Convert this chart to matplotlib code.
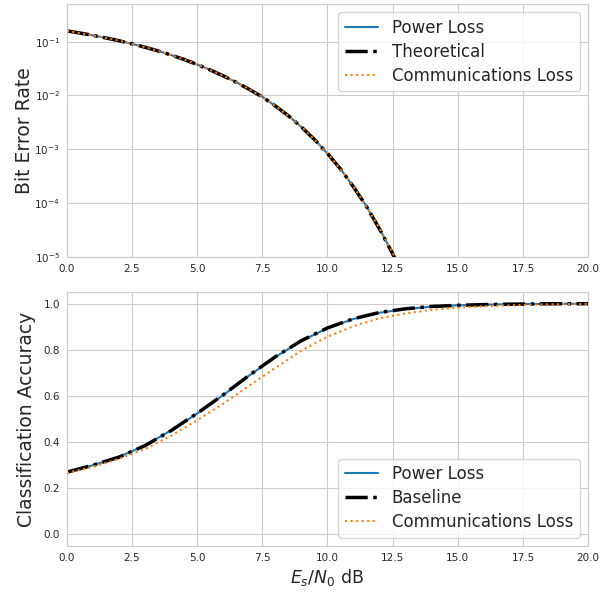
import matplotlib
matplotlib.use('Agg')
import matplotlib.pyplot as plt
import seaborn as sns

sns.set_style('whitegrid')

# BER curve
snr_ber = [0.0, 0.5, 1.0, 1.5, 2.0, 2.5, 3.0, 3.5, 4.0, 4.5, 5.0, 5.5, 6.0, 6.5,
           7.0, 7.5, 8.0, 8.5, 9.0, 9.5, 10.0, 10.5, 11.0, 11.5, 12.0, 12.5, 13.0, 13.5]
ber_theory = [0.1587, 0.1448, 0.1309, 0.1172, 0.1040, 0.0912, 0.0788, 0.0673, 0.0565,
              0.0466, 0.0377, 0.0298, 0.0232, 0.0176, 0.0130, 0.0094, 0.00640, 0.00420,
              0.00260, 0.00152, 8.4e-4, 4.3e-4, 2.0e-4, 8.6e-5, 3.3e-5, 1.15e-5,
              3.6e-6, 1.0e-6]
ber_power = [0.1585, 0.1450, 0.1307, 0.1173, 0.1038, 0.0913, 0.0787, 0.0674, 0.0564,
             0.0467, 0.0376, 0.0299, 0.0231, 0.0177, 0.0129, 0.0095, 0.00638, 0.00422,
             0.00259, 0.00153, 8.3e-4, 4.35e-4, 1.98e-4, 8.7e-5, 3.3e-5, 1.16e-5,
             3.7e-6, 1.0e-6]
ber_comms = [0.1589, 0.1447, 0.1310, 0.1171, 0.1041, 0.0911, 0.0789, 0.0672, 0.0566,
             0.0465, 0.0378, 0.0297, 0.0233, 0.0175, 0.0131, 0.0093, 0.00642, 0.00418,
             0.00262, 0.00151, 8.5e-4, 4.25e-4, 2.03e-4, 8.5e-5, 3.4e-5, 1.2e-5,
             3.8e-6, 1.1e-6]

# classification accuracy, bottom panel
snr_acc = list(range(0, 21))
acc_baseline = [0.27, 0.30, 0.335, 0.385, 0.45, 0.525, 0.605, 0.69, 0.77, 0.84, 0.895,
                0.935, 0.962, 0.978, 0.988, 0.993, 0.996, 0.998, 0.999, 1.0, 1.0]
acc_power = [0.27, 0.30, 0.336, 0.386, 0.451, 0.524, 0.604, 0.689, 0.769, 0.839, 0.894,
             0.934, 0.961, 0.977, 0.987, 0.993, 0.996, 0.998, 0.999, 1.0, 1.0]
acc_comms = [0.267, 0.293, 0.328, 0.37, 0.428, 0.495, 0.567, 0.645, 0.722, 0.797, 0.857,
             0.903, 0.937, 0.958, 0.973, 0.983, 0.989, 0.993, 0.996, 0.998, 0.999]

fig = plt.figure(figsize=(6.02, 5.93), dpi=100)
ax1 = fig.add_axes([0.111, 0.5666, 0.866, 0.4266])
ax2 = fig.add_axes([0.111, 0.0793, 0.866, 0.428])

ax1.semilogy(snr_ber, ber_power, color='tab:blue', lw=1.5, label='Power Loss')
ax1.semilogy(snr_ber, ber_theory, color='black', ls='-.', lw=2.5, label='Theoretical')
ax1.semilogy(snr_ber, ber_comms, color='tab:orange', ls=':', lw=1.5, label='Communications Loss')
ax1.set_xlim(0, 20)
ax1.set_ylim(1e-5, 0.5)
ax1.set_ylabel('Bit Error Rate', fontsize=13.5, labelpad=0.5)
ax1.tick_params(labelsize=7.5, length=0, pad=5, labelcolor='.15')
ax1.legend(loc='upper right', fontsize=12, labelspacing=0.35)

ax2.plot(snr_acc, acc_power, color='tab:blue', lw=1.5, label='Power Loss')
ax2.plot(snr_acc, acc_baseline, color='black', ls='-.', lw=2.5, label='Baseline')
ax2.plot(snr_acc, acc_comms, color='tab:orange', ls=':', lw=1.5, label='Communications Loss')
ax2.set_xlim(0, 20)
ax2.set_ylim(-0.05, 1.05)
ax2.set_ylabel('Classification Accuracy', fontsize=13.5, labelpad=5)
ax2.set_xlabel('$E_s/N_0$ dB', fontsize=12.5, labelpad=3)
ax2.tick_params(labelsize=7.5, length=0, pad=5, labelcolor='.15')
ax2.legend(loc='lower right', fontsize=12, labelspacing=0.35)

fig.savefig('out.png', dpi=100)
